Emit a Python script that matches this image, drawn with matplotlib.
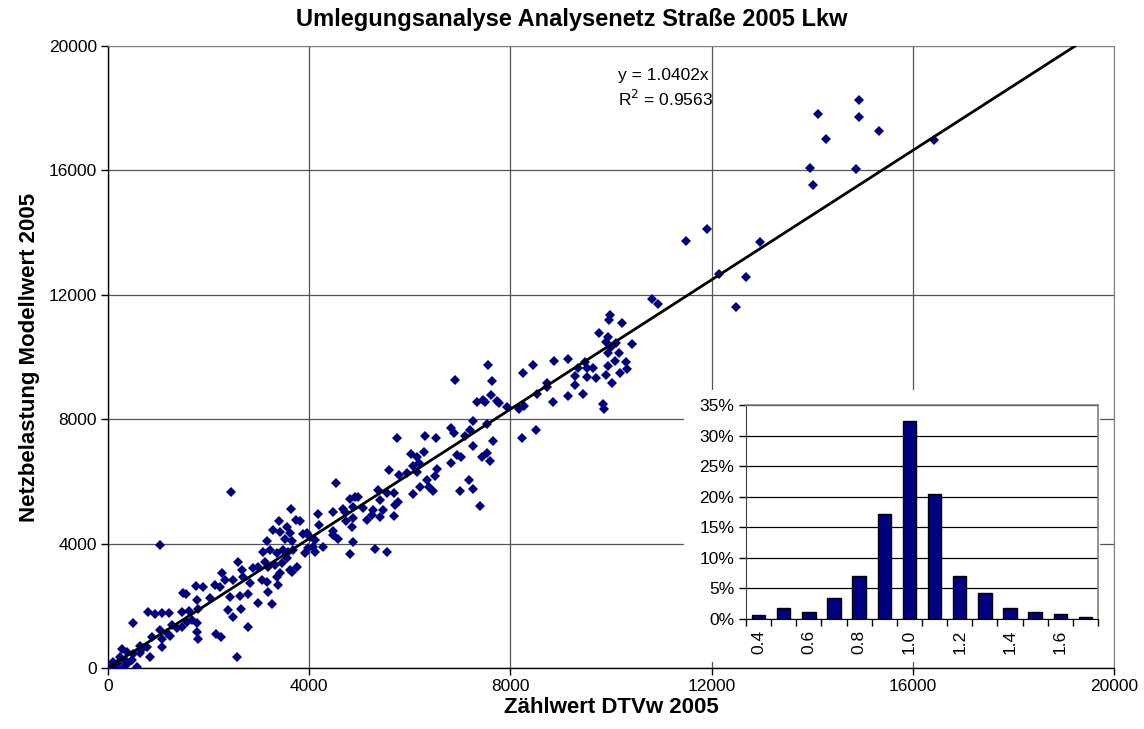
import matplotlib
matplotlib.use("Agg")
import matplotlib.pyplot as plt
from matplotlib.ticker import FixedLocator, PercentFormatter

plt.rcParams["font.family"] = ["Liberation Sans", "DejaVu Sans"]

# counted (x) vs. modelled (y) daily truck volumes per count station
zaehlwert = [
    14933, 14111, 14933, 15337, 14277, 16425, 13952, 14880, 14025, 11903,
    11492, 12957, 12142, 12679, 12487, 10809, 10942,
    9970, 9956, 10222, 9757, 9950, 9903, 10102, 10427, 9996, 9950,
    10149, 10089, 10301, 9943, 10314, 10182, 9903, 10023, 9837, 9864,
    7563, 8246, 8458, 8869, 9148, 9486, 9353, 9519, 9651, 9287,
    9519, 9704, 8723, 8723, 9293, 8524, 9154, 9439, 8843, 8272,
    8180, 7928, 8226, 8511, 6893, 7629, 7623, 7331, 7450, 7503,
    7742, 7782, 7251, 7530, 7198, 6814, 6880, 7105, 7662, 7251,
    6933, 7013, 6814, 7430, 7543, 7596, 7185, 7265, 7000, 7397,
    5740, 6303, 6522, 6031, 6138, 6283, 6058, 6190, 5581, 5779,
    5952, 6138, 6535, 6502, 6336, 6204, 6376, 6469, 6071, 4533,
    5375, 5541, 5693, 4812, 4911, 4977, 5408, 5773, 4679, 4480,
    4878, 5077, 5276, 5475, 5707, 4182, 4732, 4878, 5143, 5693,
    4202, 4845, 3883, 4480, 4579, 4016, 4878, 4082, 5309, 5541,
    3817, 3950, 4281, 3916, 4115, 4812, 4712, 5242, 5408, 4480,
    4115, 3983,
    2446, 3632, 3407, 3738, 3274, 3420, 3566, 3619, 3155, 3520,
    3652, 3221, 3354, 3089, 3487, 3586, 3685, 2591, 2658, 2890,
    2989, 3122, 3188, 3321, 3453, 3553, 3619, 3420, 3652, 3752,
    2260, 2127, 2326, 2492, 2691, 2824, 3056, 3155, 3354, 3188,
    3387, 1895, 2227, 2426, 2625, 2790, 2028,
    491, 802, 935, 1068, 1220, 1465, 1618, 1499, 1552, 1750,
    1764, 1797, 1034, 1167, 1266, 1366, 1465, 1565, 1664, 1764,
    869, 1068, 1233, 1764, 1797, 769, 637, 1068, 836, 272,
    371, 504, 637, 239, 338, 471, 106, 206, 73, 371,
    584, 7, 139, 305, 703,
    1041, 2480, 2394, 2639, 2791, 2559, 2148, 2241, 3269, 2990,
]
modellwert = [
    18253, 17813, 17728, 17267, 16999, 16977, 16087, 16034, 15541, 14104,
    13729, 13686, 12668, 12582, 11606, 11853, 11692,
    11351, 11190, 11104, 10782, 10632, 10493, 10439, 10418, 10311, 10139,
    10118, 9871, 9839, 9710, 9603, 9475, 9410, 9174, 8478, 8317,
    9732, 9475, 9732, 9871, 9946, 9839, 9635, 9635, 9635, 9389,
    9346, 9314, 9174, 9024, 9110, 8810, 8756, 8821, 8542, 8424,
    8317, 8381, 7395, 7652, 9249, 9217, 8789, 8563, 8617, 8563,
    8596, 8531, 7952, 7834, 7652, 7727, 7567, 7459, 7288, 7148,
    6848, 6795, 6602, 6773, 6902, 6666, 6055, 5766, 5701, 5197,
    7406, 7459, 7384, 6870, 6795, 6934, 6494, 6580, 6377, 6216,
    6259, 6312, 6387, 6173, 6044, 5808, 5808, 5701, 5583, 5948,
    5723, 5637, 5637, 5422, 5487, 5508, 5401, 5347, 5101, 5026,
    5187, 5133, 5079, 5079, 5240, 4951, 4736, 4811, 4758, 4886,
    4597, 4522, 4308, 4393, 4157, 4200, 4050, 3900, 3836, 3729,
    4736, 4329, 3900, 3686, 3740, 3664, 5026, 4919, 4865, 4275,
    4115, 3847,
    5648, 5112, 4737, 4758, 4436, 4383, 4544, 4329, 4083, 4136,
    4093, 3793, 3686, 3740, 3793, 3740, 3793, 3418, 3150, 3204,
    3236, 3418, 3257, 3311, 3364, 3525, 3150, 3043, 3096, 3257,
    3064, 2668, 2828, 2828, 2914, 2721, 2828, 2775, 2936, 2453,
    2668, 2593, 2593, 2293, 2314, 2378, 2239,
    1458, 1790, 1736, 1758, 1779, 1811, 1844, 2401, 2369, 2637,
    2187, 1886, 1222, 1115, 1383, 1275, 1329, 1490, 1543, 1436,
    986, 922, 1029, 1168, 922, 664, 707, 664, 364, 600,
    525, 439, 471, 364, 257, 257, 203, 150, 64, 129,
    21, 21, 10, 10, 632,
    3964, 1649, 1863, 1906, 1306, 341, 1092, 1006, 2056, 2099,
]

slope = 1.0402
r_squared = 0.9563

# distribution of the ratio model / count
ratio_classes = ["0.4", "0.5", "0.6", "0.7", "0.8", "0.9", "1.0",
                 "1.1", "1.2", "1.3", "1.4", "1.5", "1.6", "1.7"]
ratio_share = [0.6, 1.8, 1.1, 3.4, 7.1, 17.2, 32.3,
               20.4, 7.1, 4.3, 1.8, 1.2, 0.8, 0.4]

NAVY = "#000080"
GRID = "#555555"

fig = plt.figure(figsize=(11.44, 7.29), dpi=100)
ax = fig.add_axes([0.0944, 0.0837, 0.8794, 0.8532])

ax.plot(zaehlwert, modellwert, "D", color=NAVY, ms=4.6, mew=0, zorder=3)
x_end = 20000 / slope
ax.plot([0, x_end], [0, slope * x_end], color="black", lw=2.0, zorder=4)

ax.set_xlim(0, 20000)
ax.set_ylim(0, 20000)
ticks = [0, 4000, 8000, 12000, 16000, 20000]
ax.set_xticks(ticks)
ax.set_yticks(ticks)
ax.grid(True, color=GRID, lw=0.9)
ax.set_axisbelow(True)
ax.tick_params(direction="out", length=5, width=1, labelsize=12.5,
               colors="black", pad=3)
for side in ("top", "right"):
    ax.spines[side].set_color("#808080")
for side in ("left", "bottom"):
    ax.spines[side].set_color("black")
    ax.spines[side].set_linewidth(1.0)

fig.suptitle("Umlegungsanalyse Analysenetz Straße 2005 Lkw", x=0.5, y=0.9726,
             va="center", fontsize=17, fontweight="bold")
ax.set_xlabel("Zählwert DTVw 2005", fontsize=16, fontweight="bold", labelpad=2)
ax.set_ylabel("Netzbelastung Modellwert 2005", fontsize=16,
              fontweight="bold", labelpad=6)

ax.text(10139, 19067, f"y = {slope:.4f}x", fontsize=12.5, va="center", ha="left")
ax.text(10139, 18296, f"R$^2$ = {r_squared:.4f}", fontsize=12.5,
        va="center", ha="left")

# inset chart: white chart area covering the main grid
bg = fig.add_axes([0.5979, 0.0919, 0.3636, 0.3731], zorder=5)
bg.set_facecolor("white")
bg.set_xticks([])
bg.set_yticks([])
for s in bg.spines.values():
    s.set_visible(False)

hx = fig.add_axes([0.6521, 0.1509, 0.3077, 0.2936], zorder=6)
pos = list(range(len(ratio_classes)))
hx.bar(pos, ratio_share, width=0.53, color=NAVY, edgecolor="black",
       linewidth=1.0, zorder=3)
hx.set_xlim(-0.5, len(ratio_classes) - 0.5)
hx.set_ylim(0, 35)
hx.set_yticks(range(0, 36, 5))
hx.yaxis.set_major_formatter(PercentFormatter(decimals=0))
hx.grid(True, axis="y", color="black", lw=0.9)
hx.set_axisbelow(True)
hx.set_xticks(pos[::2])
hx.set_xticklabels(ratio_classes[::2], rotation=90)
hx.xaxis.set_minor_locator(FixedLocator([p - 0.5 for p in pos] + [pos[-1] + 0.5]))
hx.tick_params(axis="x", which="major", length=0, labelsize=12.5, pad=8)
hx.tick_params(axis="x", which="minor", length=5, width=1, direction="out")
hx.tick_params(axis="y", length=5, width=1, direction="out", labelsize=12.5)
for side in ("top", "right"):
    hx.spines[side].set_color("#808080")
    hx.spines[side].set_linewidth(1.2)
hx.spines["left"].set_color("#404040")
hx.spines["bottom"].set_color("black")

fig.savefig("out.png", dpi=100)
